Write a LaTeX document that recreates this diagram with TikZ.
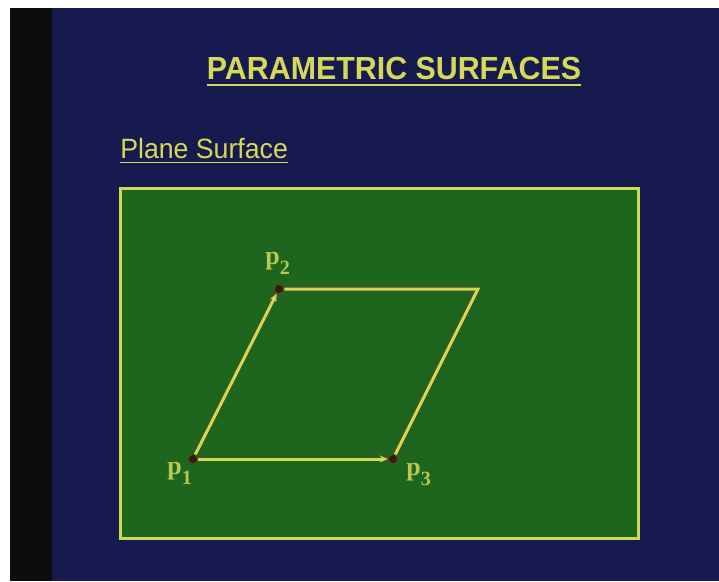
\documentclass[tikz,border=0pt]{standalone}
\usepackage{fontspec}
\setmainfont{Liberation Serif}
\newfontfamily\slidesans{Liberation Sans}
\usetikzlibrary{arrows.meta}

\definecolor{slidenavy}{RGB}{22,26,78}
\definecolor{slidegreen}{RGB}{30,102,30}
\definecolor{slideyellow}{RGB}{214,216,88}
\definecolor{edgeyellow}{RGB}{200,220,88}
\definecolor{labelgreen}{RGB}{184,200,80}
\definecolor{dotbrown}{RGB}{45,30,20}
\definecolor{rimbrown}{RGB}{95,70,25}

\newcommand{\ptlabel}[1]{p\raisebox{-2.1mm}{\fontsize{11.5}{13}\selectfont #1}}

\begin{document}
\begin{tikzpicture}[x=0.02cm,y=-0.02cm,
  corner/.style={circle,fill=dotbrown,draw=rimbrown,line width=0.2mm,
    inner sep=0pt,minimum size=1.9mm},
  rim/.style={rimbrown,line width=0.9mm},
  side/.style={edgeyellow,line width=0.6mm},
  ptname/.style={anchor=base west,inner sep=0pt,text=labelgreen,
    font=\bfseries\fontsize{14.8}{18}\selectfont}]

\useasboundingbox (0,0) rectangle (719,581);

% Fond
\fill[white]
(0,0)
rectangle
(719,581);

\fill[black!95]
(10,8)
rectangle
(52,581);

\fill[slidenavy]
(52,8)
rectangle
(719,581);

% Titres
\node[anchor=base,inner sep=0pt,text=slideyellow,xscale=0.95,
  font=\slidesans\bfseries\fontsize{18.2}{21}\selectfont]
(title) at (394,79) {PARAMETRIC SURFACES};

\draw[slideyellow,line width=0.4mm]
([yshift=-1.3mm]title.base west)
--
([yshift=-1.3mm]title.base east);

\node[anchor=base west,inner sep=0pt,text=slideyellow,xscale=0.955,
  font=\slidesans\fontsize{15.9}{18}\selectfont]
(sub) at (120,158) {Plane Surface};

\draw[slideyellow,line width=0.3mm]
([yshift=-0.9mm]sub.base west)
--
([yshift=-0.9mm]sub.base east);

% Cadre
\draw[edgeyellow,line width=0.6mm,fill=slidegreen]
(120,188)
rectangle
(638,538);

% Parallelogramme
\node[corner] (p1) at (193,459) {};
\node[corner] (p2) at (279,289) {};
\node[corner] (p3) at (393,459) {};
\coordinate (q) at (478,289);

\draw[rim]
(p1)
--
(p2);

\draw[rim]
(p1)
--
(p3);

\draw[rim]
(p2)
--
(q)
--
(p3);

\draw[side]
(p2)
--
(q)
--
(p3);

\draw[side,-{Stealth[length=1.6mm,width=1.4mm]}]
(p1)
--
(p2);

\draw[side,-{Stealth[length=1.6mm,width=1.4mm]}]
(p1)
--
(p3);

% Noms des points
\node[ptname] (l1) at (167,474) {\ptlabel{1}};
\node[ptname] (l2) at (265,264) {\ptlabel{2}};
\node[ptname] (l3) at (406,475) {\ptlabel{3}};

\end{tikzpicture}
\end{document}
